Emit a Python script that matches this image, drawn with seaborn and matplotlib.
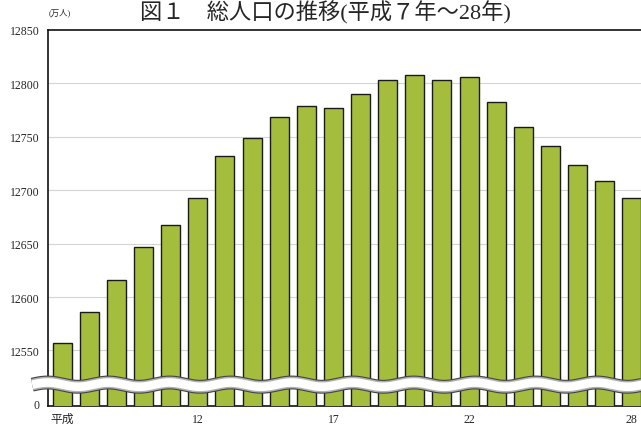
import numpy as np
import pandas as pd
import matplotlib
matplotlib.use("Agg")
import matplotlib.pyplot as plt
import seaborn as sns

# --- data (万人), 平成7年～28年 ---
years = list(range(7, 29))
population = [12557, 12586, 12616, 12647, 12667, 12693, 12732, 12749, 12769, 12779,
              12777, 12790, 12803, 12808, 12803, 12806, 12783, 12759, 12741, 12724,
              12709, 12693]
label_years = [7, 12, 17, 22, 28]
label_text = ["平成", "12", "17", "22", "28"]
ytick_values = [12500, 12550, 12600, 12650, 12700, 12750, 12800, 12850]
ytick_text = ["0", "12550", "12600", "12650", "12700", "12750", "12800", "12850"]

df = pd.DataFrame({"year": [str(y) for y in years], "pop": population})

sns.set_style("white")
plt.rcParams["font.family"] = ["Liberation Serif", "Noto Sans CJK JP"]

fig = plt.figure(figsize=(6.41, 4.27), dpi=100)
ax = fig.add_axes([48 / 641, 1 - 407 / 427, (646 - 48) / 641, (407 - 31) / 427])

sns.barplot(data=df, x="year", y="pop", color="#a4bd3c", width=0.7,
            edgecolor="#1a1a1a", linewidth=1.0, saturation=1, ax=ax, zorder=3)

ax.set_ylim(12498, 12850)
ax.set_xlim(-0.52, len(years) - 1 + 0.52)
ax.set_yticks(ytick_values)
ax.set_yticklabels(ytick_text, fontsize=8.5)
ax.set_xticks([years.index(y) for y in label_years])
ax.set_xticklabels(label_text, fontsize=8.5)
ax.tick_params(axis="both", length=0, pad=6)
ax.tick_params(axis="x", pad=5)
ax.set_xlabel("")
ax.set_ylabel("")

for v in ytick_values[1:-1]:
    ax.axhline(v, color="#d4d4d4", linewidth=0.8, zorder=1)

for s in ax.spines.values():
    s.set_color("#111111")
    s.set_linewidth(1.2)

# axis break (wavy band)
xw = np.linspace(-1.1, len(years) + 1, 600)
yw = 12518 + 2.0 * np.sin(2 * np.pi * (xw + 1.1) / 2.25)
ax.plot(xw, yw, color="#444444", linewidth=10, clip_on=False, zorder=5,
        solid_capstyle="butt")
ax.plot(xw, yw, color="#b0b0b0", linewidth=8.4, clip_on=False, zorder=6,
        solid_capstyle="butt")
ax.plot(xw, yw, color="white", linewidth=6.2, clip_on=False, zorder=7,
        solid_capstyle="butt")

fig.text(60 / 641, 1 - 13 / 427, "(万人)", fontsize=6, ha="center", va="center")
fig.text(325 / 641, 1 - 1 / 427, "図１　総人口の推移(平成７年～28年)",
         fontsize=16, ha="center", va="top")

fig.savefig("out.png", dpi=100)
